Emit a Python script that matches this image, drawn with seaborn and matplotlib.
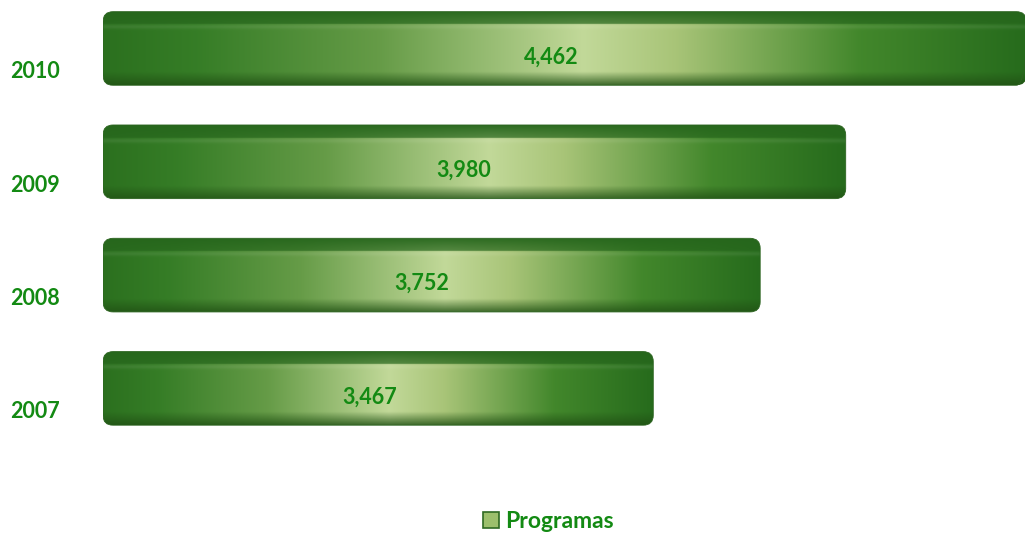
import numpy as np
import pandas as pd
import matplotlib
matplotlib.use('Agg')
import matplotlib.pyplot as plt
import seaborn as sns
from matplotlib.patches import FancyBboxPatch, Patch

# data
years = ['2010', '2009', '2008', '2007']
programas = [4462, 3980, 3752, 3467]
value_labels = ['4,462', '3,980', '3,752', '3,467']
legend_label = 'Programas'

GREEN_TXT = '#138a13'

sns.set_style('white')
plt.rcParams['font.family'] = ['Lato', 'DejaVu Sans']

df = pd.DataFrame({'year': years, 'value': programas})

fig = plt.figure(figsize=(10.25, 5.33), dpi=100)
ax = fig.add_axes([103 / 1025, 0, 922 / 1025, 1])

sns.barplot(data=df, x='value', y='year', order=years, orient='h',
            color='#3f8a2c', width=0.65, ax=ax)

X_MIN, X_MAX = 2000, 4458
ax.set_xlim(X_MIN, X_MAX)
ax.set_ylim(4.276, -0.428)


def bar_gradient(nx=400, ny=120):
    # horizontal shading: dark edges, pale middle
    t = np.linspace(0, 1, nx)
    stops = [0.0, 0.1, 0.3, 0.52, 0.62, 0.82, 1.0]
    cols = np.array([
        [0.17, 0.44, 0.12],
        [0.21, 0.49, 0.15],
        [0.40, 0.61, 0.28],
        [0.76, 0.85, 0.60],
        [0.66, 0.77, 0.47],
        [0.26, 0.53, 0.17],
        [0.15, 0.42, 0.11],
    ])
    row = np.stack([np.interp(t, stops, cols[:, k]) for k in range(3)], axis=1)
    img = np.repeat(row[None, :, :], ny, axis=0)
    s = np.linspace(0, 1, ny)[:, None, None]
    top = np.array([0.15, 0.40, 0.11])
    bot = np.array([0.13, 0.32, 0.08])
    # top face
    w_top = np.clip((0.17 - s) / 0.17, 0, 1) * 0.25 + (s < 0.17) * 0.7
    img = img * (1 - w_top) + top * w_top
    # faint highlight below the top face
    hl = np.exp(-((s - 0.21) / 0.03) ** 2) * 0.07
    img = img * (1 - hl) + 1.0 * hl
    # darker bottom
    w_bot = np.clip((s - 0.82) / 0.18, 0, 1) * 0.8
    img = img * (1 - w_bot) + bot * w_bot
    return np.clip(img, 0, 1)


grad = bar_gradient()
r_x = 27
aspect = 0.088 / r_x

bars = sorted(ax.patches, key=lambda p: p.get_y())
for bar, lab in zip(bars, value_labels):
    x0 = max(bar.get_x(), X_MIN)
    x1 = bar.get_x() + bar.get_width()
    y0 = bar.get_y()
    h = bar.get_height()
    bar.set_visible(False)

    shape = FancyBboxPatch((x0, y0), x1 - x0, h,
                           boxstyle=f'round,pad=0,rounding_size={r_x}',
                           mutation_aspect=aspect,
                           facecolor='none', edgecolor='#2c6420', lw=0.6,
                           zorder=3)
    ax.add_patch(shape)
    im = ax.imshow(grad, extent=(x0, x1, y0 + h, y0), aspect='auto',
                   interpolation='bilinear', zorder=2)
    im.set_clip_path(shape)

    yc = y0 + h / 2
    ax.text(x0 + (x1 - x0) * 0.485, yc + 0.075, lab, ha='center', va='center',
            fontsize=15.5, fontweight='bold', color=GREEN_TXT, zorder=4)

ax.set_xlim(X_MIN, X_MAX)
ax.set_ylim(4.276, -0.428)

# year labels sit low, next to the front face
for i, yr in enumerate(years):
    ax.text(-0.101, i + 0.207, yr, transform=ax.get_yaxis_transform(),
            ha='left', va='center', fontsize=15.5, fontweight='bold',
            color=GREEN_TXT)

ax.set_xticks([])
ax.set_yticks([])
ax.set_xlabel('')
ax.set_ylabel('')
sns.despine(ax=ax, left=True, bottom=True)

handle = Patch(facecolor='#9cbf6c', edgecolor='#2f6a22', lw=1.2)
leg = fig.legend([handle], [legend_label], loc='lower center',
                 bbox_to_anchor=(0.535, -0.02), frameon=False,
                 handlelength=0.7, handleheight=0.7, handletextpad=0.3,
                 borderpad=0, prop={'size': 16.5, 'weight': 'bold'})
for txt in leg.get_texts():
    txt.set_color(GREEN_TXT)

fig.savefig('out.png', dpi=100)
